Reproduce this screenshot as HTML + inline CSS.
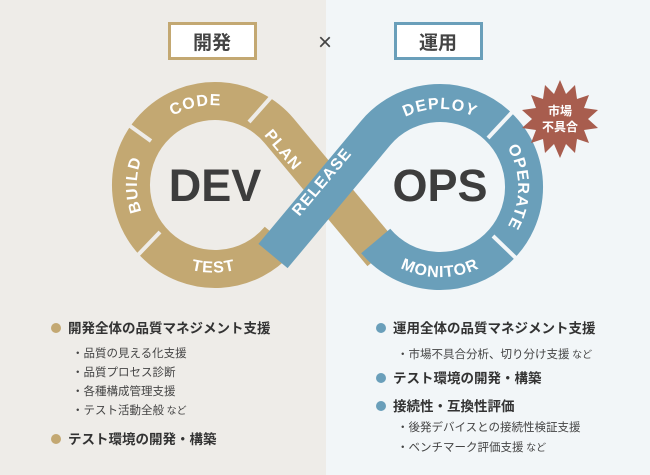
<!DOCTYPE html>
<html><head><meta charset="utf-8"><style>
html,body{margin:0;padding:0;width:650px;height:475px;overflow:hidden}
body{font-family:"Liberation Sans","Noto Sans CJK JP",sans-serif}
</style></head><body>
<svg width="650" height="475" viewBox="0 0 650 475" xmlns="http://www.w3.org/2000/svg" font-family="Liberation Sans, Noto Sans CJK JP, sans-serif">
<rect x="0" y="0" width="326" height="475" fill="#eeece8"/>
<rect x="326" y="0" width="324" height="475" fill="#f2f6f8"/>
<rect x="169.5" y="23.5" width="86" height="35" fill="#fff" stroke="#c3a872" stroke-width="3"/>
<text x="212" y="49" font-size="19" font-weight="bold" fill="#444" text-anchor="middle" font-family="Noto Sans CJK JP, sans-serif">開発</text>
<text x="325" y="50" font-size="24" fill="#444" text-anchor="middle">×</text>
<rect x="395.5" y="23.5" width="86" height="35" fill="#fff" stroke="#6a9fba" stroke-width="3"/>
<text x="438" y="49" font-size="19" font-weight="bold" fill="#444" text-anchor="middle" font-family="Noto Sans CJK JP, sans-serif">運用</text>
<defs>
<path id="pCode" d="M 147.4 139.8 A 78 78 0 0 1 254 117.4"/>
<path id="pBuild" d="M 159.8 240.2 A 78 78 0 0 1 159.8 129.8"/>
<path id="pTest" d="M 137 230 A 90 90 0 0 0 290 230"/>
<path id="pDeploy" d="M 380 137 A 78 78 0 0 1 500 137"/>
<path id="pOperate" d="M 490 127 A 78 78 0 0 1 490 247"/>
<path id="pMonitor" d="M 362 232 A 90 90 0 0 0 518 232"/>
</defs>
<path d="M 279.3 239 A 84 84 0 1 1 279.3 131 L 382 254" fill="none" stroke="#c3a872" stroke-width="38"/>
<g stroke="#eeece8" stroke-width="4">
<line x1="151" y1="141" x2="119" y2="118"/>
<line x1="249" y1="122" x2="272" y2="96"/>
<line x1="160" y1="232" x2="137" y2="256"/>
</g>
<path d="M 273 256 L 375.7 133 A 84 84 0 1 1 375.7 241" fill="none" stroke="#6a9fba" stroke-width="38"/>
<g stroke="#f2f6f8" stroke-width="4">
<line x1="488" y1="138" x2="516" y2="108"/>
<line x1="493" y1="236" x2="520" y2="262"/>
</g>
<g font-size="16" font-weight="bold" fill="#fff" letter-spacing="1">
<text><textPath href="#pCode" startOffset="50%" text-anchor="middle">CODE</textPath></text>
<text><textPath href="#pBuild" startOffset="50%" text-anchor="middle">BUILD</textPath></text>
<text><textPath href="#pTest" startOffset="50%" text-anchor="middle">TEST</textPath></text>
<text><textPath href="#pDeploy" startOffset="50%" text-anchor="middle">DEPLOY</textPath></text>
<text><textPath href="#pOperate" startOffset="50%" text-anchor="middle">OPERATE</textPath></text>
<text><textPath href="#pMonitor" startOffset="50%" text-anchor="middle">MONITOR</textPath></text>
<text transform="translate(283,150) rotate(50)" text-anchor="middle" dy="5">PLAN</text>
<text transform="translate(322,182) rotate(-50)" text-anchor="middle" dy="5">RELEASE</text>
</g>
<text x="215" y="201" font-size="45" font-weight="bold" fill="#3d3d3d" text-anchor="middle">DEV</text>
<text x="440" y="201" font-size="45" font-weight="bold" fill="#3d3d3d" text-anchor="middle">OPS</text>
<polygon fill="#a85d4e" points="
560,80 566,94 575,85 577,99 589,95 584,108 598,110 588,119 598,128 584,130 589,143 577,139 575,153 566,144 560,158 554,144 545,153 543,139 531,143 536,130 522,128 532,119 522,110 536,108 531,95 543,99 545,85 554,94"/>
<text x="560" y="115" font-size="12" font-weight="bold" fill="#fff" text-anchor="middle" font-family="Noto Sans CJK JP, sans-serif">市場</text>
<text x="560" y="131" font-size="12" font-weight="bold" fill="#fff" text-anchor="middle" font-family="Noto Sans CJK JP, sans-serif">不具合</text>
<g font-family="Noto Sans CJK JP, sans-serif" fill="#333">
<circle cx="56" cy="328" r="5" fill="#c3a872"/>
<text x="68" y="333" font-size="13.5" font-weight="bold">開発全体の品質マネジメント支援</text>
<g font-size="11.5" fill="#444">
<text x="72" y="357">・品質の見える化支援</text>
<text x="72" y="376">・品質プロセス診断</text>
<text x="72" y="395">・各種構成管理支援</text>
<text x="72" y="414">・テスト活動全般 <tspan font-size="10">など</tspan></text>
</g>
<circle cx="56" cy="439" r="5" fill="#c3a872"/>
<text x="68" y="444" font-size="13.5" font-weight="bold">テスト環境の開発・構築</text>
<circle cx="381" cy="328" r="5" fill="#6a9fba"/>
<text x="393" y="333" font-size="13.5" font-weight="bold">運用全体の品質マネジメント支援</text>
<text x="397" y="358" font-size="11.5" fill="#444">・市場不具合分析、切り分け支援 <tspan font-size="10">など</tspan></text>
<circle cx="381" cy="378" r="5" fill="#6a9fba"/>
<text x="393" y="383" font-size="13.5" font-weight="bold">テスト環境の開発・構築</text>
<circle cx="381" cy="406" r="5" fill="#6a9fba"/>
<text x="393" y="411" font-size="13.5" font-weight="bold">接続性・互換性評価</text>
<text x="397" y="431" font-size="11.5" fill="#444">・後発デバイスとの接続性検証支援</text>
<text x="397" y="451" font-size="11.5" fill="#444">・ベンチマーク評価支援 <tspan font-size="10">など</tspan></text>
</g>
</svg>
</body></html>
